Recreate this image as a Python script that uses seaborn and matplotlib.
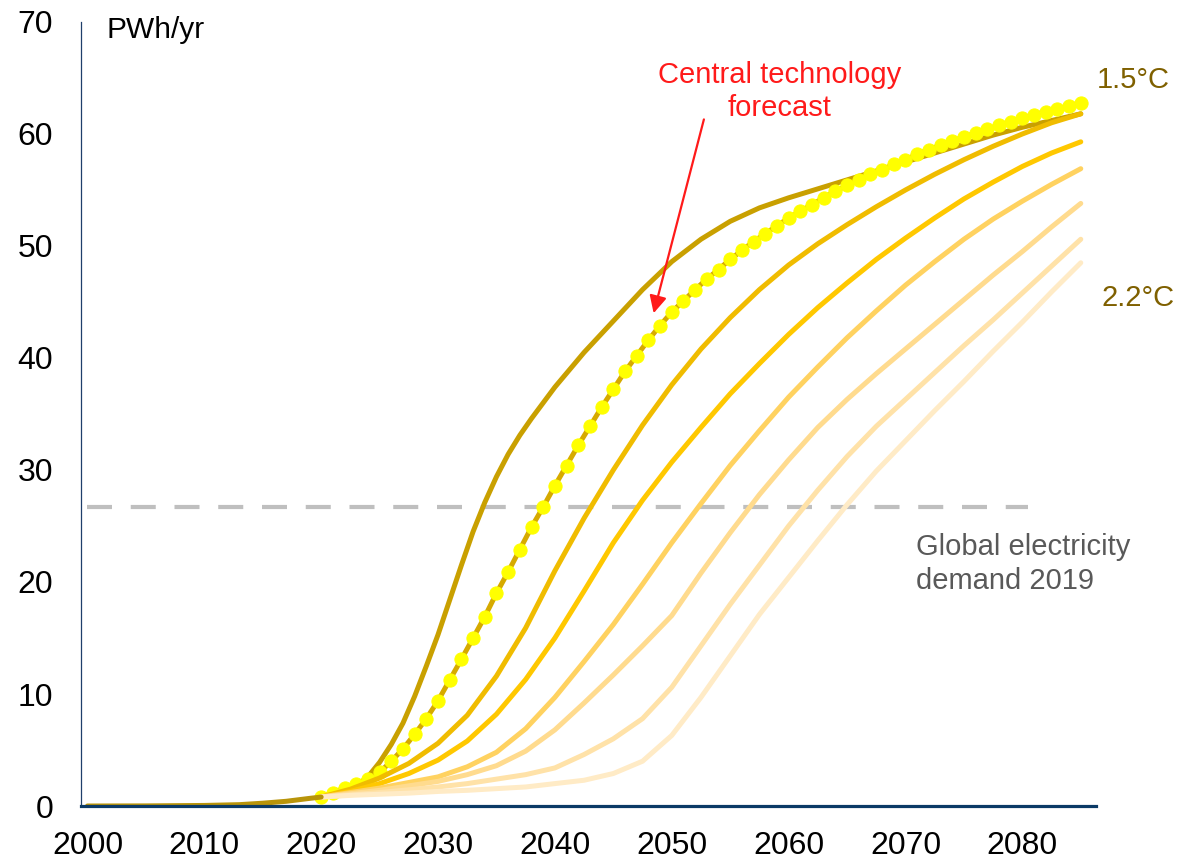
import numpy as np
import pandas as pd
import matplotlib
matplotlib.use("Agg")
import matplotlib.pyplot as plt
import seaborn as sns

sns.set_style("white")
plt.rcParams['font.family'] = ['Liberation Sans', 'DejaVu Sans']

# history up to 2020 (shared by all scenarios)
hist_years = [2000, 2005, 2010, 2013, 2015, 2017, 2018, 2019, 2020]
hist_vals = [0.0, 0.01, 0.05, 0.12, 0.25, 0.42, 0.55, 0.68, 0.8]

# 1.5C scenario (darkest), read yearly where it bends fast
dark_years = [2020, 2021, 2022, 2023, 2024, 2025, 2026, 2027, 2028, 2029, 2030, 2031,
              2032, 2033, 2034, 2035, 2036, 2037, 2038, 2040, 2042.5, 2045, 2047.5,
              2050, 2052.5, 2055, 2057.5, 2060, 2062.5, 2065, 2067.5, 2070, 2072.5,
              2075, 2077.5, 2080, 2082.5, 2085]
dark_vals = [0.8, 1.1, 1.4, 1.8, 2.6, 3.9, 5.5, 7.4, 9.8, 12.5, 15.3, 18.4,
             21.5, 24.5, 27.1, 29.4, 31.4, 33.1, 34.6, 37.4, 40.5, 43.3, 46.1,
             48.6, 50.6, 52.2, 53.4, 54.3, 55.1, 55.9, 56.7, 57.5, 58.3,
             59.1, 59.9, 60.6, 61.2, 61.8]

# other scenarios, read every 2.5 years, darker -> 2.2C (lightest)
scen_years = np.arange(2020, 2085.1, 2.5)
scen_vals = [
    [0.8, 1.5, 2.5, 3.8, 5.6, 8.1, 11.6, 15.9, 21.0, 25.7, 30.0, 34.0, 37.6, 40.8,
     43.6, 46.1, 48.3, 50.2, 51.9, 53.5, 55.0, 56.4, 57.7, 58.9, 60.0, 61.0, 61.8],
    [0.8, 1.3, 2.0, 2.9, 4.1, 5.8, 8.2, 11.3, 15.0, 19.2, 23.5, 27.3, 30.7, 33.8,
     36.8, 39.5, 42.1, 44.5, 46.7, 48.8, 50.7, 52.5, 54.2, 55.7, 57.1, 58.3, 59.3],
    [0.8, 1.2, 1.6, 2.1, 2.6, 3.5, 4.8, 6.9, 9.7, 12.9, 16.2, 19.8, 23.5, 27.0,
     30.4, 33.5, 36.5, 39.2, 41.8, 44.2, 46.5, 48.6, 50.6, 52.4, 54.0, 55.5, 56.9],
    [0.8, 1.1, 1.4, 1.8, 2.2, 2.8, 3.6, 4.9, 6.8, 9.2, 11.7, 14.3, 17.0, 20.8,
     24.4, 27.8, 30.9, 33.8, 36.3, 38.6, 40.8, 43.0, 45.2, 47.4, 49.5, 51.7, 53.8],
    [0.8, 1.0, 1.2, 1.45, 1.7, 2.0, 2.4, 2.8, 3.4, 4.6, 6.0, 7.8, 10.6, 14.3,
     18.0, 21.5, 25.0, 28.2, 31.2, 33.9, 36.3, 38.7, 41.1, 43.4, 45.8, 48.2, 50.6],
    [0.8, 0.95, 1.05, 1.15, 1.3, 1.4, 1.55, 1.7, 2.0, 2.3, 2.9, 4.0, 6.3, 9.7,
     13.4, 17.1, 20.4, 23.7, 26.9, 29.9, 32.6, 35.3, 37.9, 40.6, 43.2, 45.9, 48.5],
]
dark_color = '#C9A000'
scen_colors = ['#F0BC00', '#FFC800', '#FFD260', '#FFDB8E', '#FFE2A8', '#FFEBC6']

# central technology forecast, yearly dots
fc_years = np.arange(2020, 2086)
fc_vals = [0.8, 1.2, 1.6, 2.0, 2.4, 3.0, 4.0, 5.1, 6.4, 7.8,
           9.4, 11.25, 13.1, 15.0, 16.9, 19.0, 20.9, 22.9, 24.9, 26.7,
           28.6, 30.4, 32.2, 33.9, 35.6, 37.2, 38.8, 40.2, 41.6, 42.9,
           44.1, 45.1, 46.1, 47.05, 47.9, 48.8, 49.6, 50.4, 51.1, 51.8,
           52.5, 53.1, 53.7, 54.3, 54.9, 55.4, 55.9, 56.4, 56.8, 57.3,
           57.7, 58.2, 58.6, 59.0, 59.4, 59.7, 60.1, 60.4, 60.8, 61.1,
           61.4, 61.7, 62.0, 62.2, 62.5, 62.8]

demand_2019 = 26.7
demand_span = [2000, 2080.5]

fig = plt.figure(figsize=(11.81, 8.65), dpi=100)
ax = fig.add_axes([0.0686, 0.0682, 0.8594, 0.9064])

lw = 3.6
# darkest scenario first, forecast on top of it, then lighter ones
sns.lineplot(x=dark_years, y=dark_vals, ax=ax, color=dark_color, lw=lw,
             solid_capstyle='round', zorder=2)
sns.lineplot(x=fc_years, y=fc_vals, ax=ax, color='#D6AA00', lw=lw, marker='o',
             markersize=9.5, markerfacecolor='#FFFF00', markeredgecolor='#FFFF00',
             solid_capstyle='round', zorder=3)
for vals, col in zip(scen_vals, scen_colors):
    sns.lineplot(x=scen_years, y=vals, ax=ax, color=col, lw=lw,
                 solid_capstyle='round', zorder=4)
sns.lineplot(x=hist_years, y=hist_vals, ax=ax, color='#B8940A', lw=lw,
             solid_capstyle='round', zorder=5)

ax.plot(demand_span, [demand_2019, demand_2019], color='#BFBFBF', lw=3.0,
        dashes=(6, 4.5), dash_capstyle='butt', zorder=1)

ax.set_xlim(1999.45, 2086.3)
ax.set_ylim(0, 70)
ax.set_xticks(range(2000, 2081, 10))
ax.set_yticks(range(0, 71, 10))
ax.tick_params(axis='both', length=0, labelsize=23, labelcolor='black')
ax.tick_params(axis='y', pad=20)
ax.tick_params(axis='x', pad=18)
ax.set_xlabel('')
ax.set_ylabel('')
for s in ['top', 'right']:
    ax.spines[s].set_visible(False)
ax.spines['left'].set_color('#1F3F6B')
ax.spines['left'].set_linewidth(0.9)
ax.spines['bottom'].set_color('#0B3A66')
ax.spines['bottom'].set_linewidth(2.3)
ax.spines['bottom'].set_zorder(6)

ax.text(2001.6, 69.3, 'PWh/yr', fontsize=21.5, color='black', ha='left', va='center')
ax.text(2059.2, 63.8, 'Central technology\nforecast', fontsize=21, color='#FF1A1A',
        ha='center', va='center', linespacing=1.25)
ax.annotate('', xy=(2048.45, 44.0), xytext=(2052.75, 61.3),
            arrowprops=dict(arrowstyle='-|>', color='#FF1A1A', lw=1.6,
                            mutation_scale=26, shrinkA=0, shrinkB=0))
ax.text(2086.4, 64.8, '1.5°C', fontsize=21, color='#7F6000', ha='left', va='center')
ax.text(2086.8, 45.4, '2.2°C', fontsize=21, color='#7F6000', ha='left', va='center')
ax.text(2070.9, 21.6, 'Global electricity\ndemand 2019', fontsize=21, color='#595959',
        ha='left', va='center', linespacing=1.25)

fig.savefig('out.png', dpi=100)
